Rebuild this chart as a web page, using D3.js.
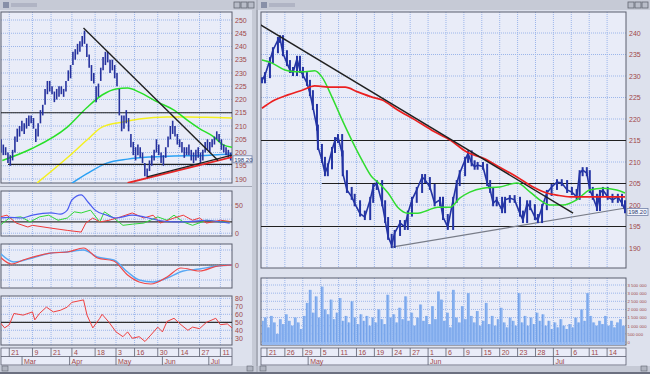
<!DOCTYPE html>
<html lang="en">
	<head>
		<meta charset="utf-8">
		<title>Charts</title>
		<script src="https://d3js.org/d3.v7.min.js"></script>
		<style>
			body { margin: 0; background: #d8dce8; }
			text { font-family: "Liberation Sans", Arial, sans-serif; font-size: 7px; }
		</style>
	</head>
	<body>
	<script>

// ---------- data ----------

// left window: daily bars (index 0..99)
var leftHigh = [205,203,202,200,199,201,206,209,210,212, 211,213,214,214,213,209,211,216,218,224,
                227,227,225,223,224,225,225,224,227,231, 233,238,239,241,242,244,246,241,237,233,
                230,225,226,232,236,238,238,235,235,233, 230,224,214,214,216,213,207,204,202,203,
                202,200,196,194,197,199,201,205,203,200, 199,202,206,210,212,210,207,205,204,202,
                202,203,201,200,201,202,200,201,204,205, 204,205,206,208,207,205,203,202,201,200];
var leftLow  = [200,199,199,196,195,197,200,204,206,208, 207,209,210,211,209,204,206,211,214,218,
                222,223,222,219,220,221,222,221,223,227, 228,233,235,237,238,240,241,236,232,227,
                226,219,221,227,231,233,234,230,231,228, 225,214,208,209,211,208,202,199,197,199,
                198,196,191,190,193,195,197,200,199,196, 195,198,202,205,207,206,203,202,200,198,
                199,199,197,196,197,198,196,197,200,201, 200,202,203,205,204,201,200,199,198,197];

var leftMaGreen  = [[1,197],[14,201.6],[29,209.6],[37.5,217],[44,221.7],[50,224],[55,224.3],[60,222.8],
                    [68,219],[75,216],[81,212],[86,209],[92,206],[96,203],[100,202]];
var leftMaYellow = [[16,188.5],[29,198],[37.5,204.7],[44,209.6],[53,211.5],[60,212.6],[72,213.4],
                    [81,213.4],[89,213.3],[100,213]];
var leftMaBlue   = [[31,188.4],[37.5,192],[46,196],[55,197.5],[65,198.3],[75,198.7],[86,198.8],[100,199.4]];

var leftLevels    = [215, 195.5];
var leftTrendDown = [[36,247],[94,197]];
var leftTrendUp   = [[63.4,190.8],[100,199]];
var leftTrendRed  = [[55,188.5],[100,198.3]];
var leftLast = "198.20";

// indicators
var adxBlue  = [[0,27],[4,28],[9,27],[14,32],[22,36],[26,34],[29,41],[31,59],[35,68],[38,55],[41,41],
                [46,32],[50,27],[57,32],[62,29],[68,23],[75,20],[83,21],[89,23],[95,20],[99,18]];
var adxGreen = [[0,14],[4,27],[9,29],[13,20],[17,29],[21,32],[25,23],[29,27],[32,38],[35,36],[39,41],
                [43,20],[45,38],[49,27],[53,14],[57,16],[62,18],[68,29],[72,23],[75,32],[79,20],
                [83,14],[89,23],[95,20],[99,20]];
var adxRed   = [[0,29],[3,32],[7,18],[12,11],[14,14],[22,9],[29,5],[35,2],[37,18],[40,27],[43,20],
                [47,23],[52,29],[57,36],[62,27],[66,32],[69,18],[75,27],[79,32],[83,23],[86,27],
                [89,18],[95,23],[99,21]];
var macdSignal = [[0,12],[6,3],[14,7],[22,12],[29,13],[36,15],[42,8],[49,5],[55,-7],[60,-15],[66,-17],
                  [72,-13],[79,-6],[86,-4],[94,-1],[100,0]];
var macdLine   = [[0,8],[5,1],[10,5],[22,12],[29,13],[36,17],[42,7],[49,4],[55,-10],[60,-17],[65,-19],
                  [72,-12],[78,-3],[86,-6],[94,-1],[100,0]];
var rsiLine = [[0,50],[2,43],[4,47],[6,61],[10,59],[14,63],[15,53],[17,61],[20,69],[23,63],[26,65],
               [29,69],[31,75],[36,78],[37.5,59],[40,43],[43,55],[44,60],[47,50],[50,38],[53,32],
               [55,38],[57,30],[60,32],[62.5,26],[65,34],[68,44],[70,38],[72,51],[75,55],[78,47],
               [81,40],[83,44],[86,42],[89,50],[93,55],[95,47],[98,48],[100,43]];

var leftDayIdx    = [4,14,22,31,41,50,58,68,77,86,95];
var leftDayLabels = ["21","9","21","4","18","3","16","30","14","27","11"];
var leftMonthIdx    = [9.5,30,50,70,90];
var leftMonthLabels = ["Mar","Apr","May","Jun","Jul"];

// right window: intraday closes, time in trading days from 21 Apr
var rightT = [-0.84,-0.34,0.5,1.0,1.84,2.18,2.68,3.35,3.85,4.36,5.03,5.53,6.03,6.7,7.2,7.7,8.38,8.54,
              9.21,9.72,10.2,10.9,11.4,11.9,12.6,12.7,13.4,14.2,14.7,15.6,16.4,17.3,17.8,18.4,19.3,
              19.8,20.3,20.9,21.4,22.3,23.1,23.6,24.3,25.1,26.0,26.5,27.3,28.1,29.0,29.5,30.3,31.2,
              31.8,32.3,33.2,33.7,34.3,34.8,35.3,36.2,36.9,37.4,37.9,38.5,39.4,39.9,40.7,41.5,42.4,
              42.9,43.6,44.1,44.9,45.4,46.1,46.9,47.7,48.6,49.4,50.3,51.1,51.9,52.4,52.9,53.6,54.1,
              54.6,55.3,55.8,56.3,57.1,57.9,58.8,59.5,60.0];
var rightClose = [229,230.2,233.7,236,238.4,238.8,235.3,233,231.4,230.7,234,231.4,230.2,228.4,226,222.8,
                  218,213.5,210.5,207.4,209,212.8,215.1,215.8,212,207.4,203.5,201.9,200.4,198,197.2,
                  201.2,204.2,205.1,200.4,196.5,192.6,190.7,193.5,195.8,194.9,198,201.2,203.5,206.5,
                  205.8,204.2,200.4,201.2,197.2,194.9,201.2,205.1,207.4,210.5,212,209.7,208.9,209.3,
                  208.9,205.1,203.5,200.4,201.2,198.8,201.2,201.6,201.2,198,196.5,200.4,199.5,197.2,
                  196.5,199.5,202.8,204.2,205.3,205.1,203.5,203,201.9,207.4,208.1,207.4,203.5,201.9,
                  199.3,202.8,203.5,201.9,201.2,201.9,200.4,198.8];

var rightMaGreen = [[-0.84,233.7],[0.84,233],[3.0,231.4],[4.7,231],[6.4,231],[8.0,231.2],[9.2,229.8],
                    [10.9,225.1],[12.6,219.8],[14.2,215.1],[15.9,210.5],[17.6,206.5],[18.6,205.3],
                    [20.3,202.8],[21.9,199.5],[23.6,198.1],[25.3,198.1],[27.0,198.8],[28.6,199.5],
                    [30.7,199.5],[32.3,201.6],[34.0,203],[36.2,203.9],[39.0,204.2],[41.9,205.1],
                    [44.1,203],[45.7,201.2],[47.4,200],[49.6,200],[51.9,201.2],[54.1,203.5],
                    [56.3,203.9],[58.6,203.5],[60.0,202.8]];
var rightMaRed = [[-0.84,222.5],[1.3,224.4],[3.5,225.6],[5.9,226.7],[8.0,227.7],[10.9,227.4],[13.1,227.4],
                  [15.2,226.3],[17.6,225.1],[19.3,224.4],[21.9,222.1],[24.8,219.8],[27.6,217.4],
                  [30.7,215.1],[33.5,212.3],[36.2,210.9],[39.0,208.8],[41.9,206.5],[44.6,204.2],
                  [46.9,202.8],[48.6,202.3],[50.8,201.9],[55.8,201.9],[60.0,201.9]];

var rightTrendDown = [[-1.1,241.9],[51.3,198.1]];
var rightTrendUp   = [[20.9,190.2],[60.1,199.3]];
var rightLast = "198.20";

// volume in thousands, two values per trading day
var volume = [1300,1500,900,1600,1200,500,1400,1100,1700,1300,1000,1500,1200,800,
              1600,2400,3200,1800,2800,1500,3400,2000,1700,2600,
              1400,1800,2700,1300,1600,1200,2500,1500,1100,1700,
              1300,1600,1000,1500,1200,2000,1400,1100,2900,1500,
              1700,1200,2100,1400,2800,1300,1800,1000,1500,2300,
              1300,1600,1100,2200,1400,3100,2600,1300,1800,900,
              3200,1500,1200,2200,1400,3000,1600,1200,1900,1000,
              1300,2400,1100,1600,1000,1400,2100,1200,900,1500,
              1300,1000,3000,1200,1600,1000,1500,1100,1800,1300,
              1700,1000,1300,800,1200,900,1400,1000,800,1100,
              900,1500,1200,2000,1300,3000,1600,1200,1000,1300,
              1100,1600,1000,1300,900,1200,1400,1000];
var volTicks = [0,500,1000,1500,2000,2500,3000,3500];
var volLabels = ["0","500 000","1 000 000","1 500 000","2 000 000","2 500 000","3 000 000","3 500 000"];

var rightDayIdx = [0,3,6,9,12,15,18,21,24,27,30,33,36,39,42,45,48,51,54,57];
var rightDayLabels = ["21","26","29","5","11","16","19","24","27","1","6","9","15","20","23","28","1","6","11","14"];
var rightMonthIdx = [6.9,27,48];
var rightMonthLabels = ["May","Jun","Jul"];

// ---------- drawing ----------

var W = 650, H = 374;
var gridCol = "#9cb6ea", labCol = "#a04848", boxCol = "#5a5e6e", plotBg = "#e9ecf8";

var svg = d3.select("body").append("svg")
	.attr("width", W).attr("height", H);

svg.append("rect").attr("width", W).attr("height", H).attr("fill", "#dde1ed");

// window chrome
function chrome(x0, x1) {
	svg.append("rect").attr("x", x0).attr("y", 0).attr("width", x1 - x0).attr("height", 10)
		.attr("fill", "#c6cad6");
	svg.append("rect").attr("x", x0 + 3).attr("y", 2).attr("width", 6).attr("height", 6)
		.attr("fill", "#8890a8");
	svg.append("rect").attr("x", x0 + 11).attr("y", 3).attr("width", 26).attr("height", 4)
		.attr("fill", "#b0b4c4");
	[22, 15, 8].forEach(function(d) {
		svg.append("rect").attr("x", x1 - d).attr("y", 2).attr("width", 6).attr("height", 6)
			.attr("fill", "#b8bcc8").attr("stroke", "#606470").attr("stroke-width", 0.8);
	});
	svg.append("rect").attr("x", x0).attr("y", 366).attr("width", x1 - x0).attr("height", 6)
		.attr("fill", "#c6cad6");
	svg.append("rect").attr("x", x0 + 2).attr("y", 366).attr("width", 6).attr("height", 5)
		.attr("fill", "#b0b4c0").attr("stroke", "#606470").attr("stroke-width", 0.6);
	svg.append("rect").attr("x", x1 - 9).attr("y", 366).attr("width", 6).attr("height", 5)
		.attr("fill", "#b0b4c0").attr("stroke", "#606470").attr("stroke-width", 0.6);
}
chrome(0, 256);
chrome(258, 650);
svg.append("rect").attr("x", 252).attr("y", 10).attr("width", 6).attr("height", 356).attr("fill", "#c6cad6");
svg.append("line").attr("x1", 257).attr("x2", 257).attr("y1", 0).attr("y2", 374).attr("stroke", "#8a8e9a");
svg.append("rect").attr("x", 0).attr("y", 372).attr("width", W).attr("height", 2).attr("fill", "#6c7080");

// a panel: background, grid, border
function panel(x0, x1, y0, y1, xs, xticks, ys, yticks) {
	svg.append("rect").attr("x", x0).attr("y", y0).attr("width", x1 - x0).attr("height", y1 - y0)
		.attr("fill", plotBg);
	var g = svg.append("g").attr("stroke", gridCol).attr("stroke-dasharray", "1,1");
	g.selectAll(".v").data(xticks).enter().append("line")
		.attr("x1", d => xs(d)).attr("x2", d => xs(d)).attr("y1", y0).attr("y2", y1);
	g.selectAll(".h").data(yticks).enter().append("line")
		.attr("x1", x0).attr("x2", x1).attr("y1", d => ys(d)).attr("y2", d => ys(d));
	svg.append("rect").attr("x", x0).attr("y", y0).attr("width", x1 - x0).attr("height", y1 - y0)
		.attr("fill", "none").attr("stroke", boxCol).attr("stroke-width", 1);
}

function yLabels(x, ys, ticks, fmt) {
	svg.append("g").selectAll("text").data(ticks).enter().append("text")
		.attr("x", x).attr("y", d => ys(d) + 2.5).attr("fill", labCol)
		.text(fmt || (d => d));
}

function clipRect(id, x0, x1, y0, y1) {
	svg.append("clipPath").attr("id", id).append("rect")
		.attr("x", x0).attr("y", y0).attr("width", x1 - x0).attr("height", y1 - y0);
	return "url(#" + id + ")";
}

function curve(g, xs, ys, data, col, w) {
	g.append("path").datum(data)
		.attr("d", d3.line().x(d => xs(d[0])).y(d => ys(d[1])).curve(d3.curveMonotoneX))
		.attr("fill", "none").attr("stroke", col).attr("stroke-width", w);
}

function straight(g, xs, ys, data, col, w) {
	g.append("path").datum(data)
		.attr("d", d3.line().x(d => xs(d[0])).y(d => ys(d[1])))
		.attr("fill", "none").attr("stroke", col).attr("stroke-width", w);
}

// last price tag, top edge at y
function lastBox(x, y, w, txt) {
	svg.append("rect").attr("x", x).attr("y", y).attr("width", w).attr("height", 7)
		.attr("fill", "#f2f4fc").attr("stroke", "#7080a8").attr("stroke-width", 0.8);
	svg.append("text").attr("x", x + 1.2).attr("y", y + 5.8).attr("fill", "#304070")
		.style("font-size", "6px").text(txt);
}

// bottom date axis
function dateAxis(x0, x1, xs, dayIdx, dayLab, monIdx, monLab) {
	svg.append("rect").attr("x", x0).attr("y", 348).attr("width", x1 - x0).attr("height", 17)
		.attr("fill", plotBg).attr("stroke", boxCol).attr("stroke-width", 0.8);
	svg.append("line").attr("x1", x0).attr("x2", x1).attr("y1", 356.5).attr("y2", 356.5)
		.attr("stroke", boxCol).attr("stroke-width", 0.8);
	var g = svg.append("g");
	g.selectAll(".dt").data(dayIdx).enter().append("line")
		.attr("x1", d => xs(d)).attr("x2", d => xs(d)).attr("y1", 348).attr("y2", 356.5)
		.attr("stroke", boxCol).attr("stroke-width", 0.8);
	g.selectAll(".dl").data(dayIdx).enter().append("text")
		.attr("x", d => xs(d) + 2).attr("y", 355).attr("fill", labCol)
		.text((d, i) => dayLab[i]);
	g.selectAll(".mt").data(monIdx).enter().append("line")
		.attr("x1", d => xs(d)).attr("x2", d => xs(d)).attr("y1", 356.5).attr("y2", 365)
		.attr("stroke", boxCol).attr("stroke-width", 0.8);
	g.selectAll(".ml").data(monIdx).enter().append("text")
		.attr("x", d => xs(d) + 2).attr("y", 363.5).attr("fill", labCol)
		.text((d, i) => monLab[i]);
}

// ===== left window =====
var lx = d3.scaleLinear().domain([0, 100]).range([0, 232]);
var ly = d3.scaleLinear().domain([190, 250]).range([179, 20]);
var priceTicks = d3.range(190, 251, 5);

panel(1, 232, 12, 183, lx, leftDayIdx, ly, priceTicks);
yLabels(235, ly, priceTicks);

var lg = svg.append("g").attr("clip-path", clipRect("cl", 1, 232, 12, 183));
curve(lg, lx, ly, leftMaYellow, "#f4f020", 1.5);
curve(lg, lx, ly, leftMaBlue, "#2aa0f4", 1.5);
curve(lg, lx, ly, leftMaGreen, "#28e028", 1.5);

lg.selectAll(".lvl").data(leftLevels).enter().append("line")
	.attr("x1", (d, i) => i == 0 ? 1 : 8).attr("x2", 232)
	.attr("y1", d => ly(d)).attr("y2", d => ly(d))
	.attr("stroke", "#202020").attr("stroke-width", 1.2);

lg.selectAll(".bar").data(leftHigh).enter().append("line")
	.attr("x1", (d, i) => lx(i) + 1).attr("x2", (d, i) => lx(i) + 1)
	.attr("y1", d => ly(d)).attr("y2", (d, i) => ly(leftLow[i]))
	.attr("stroke", "#26329e").attr("stroke-width", 1.6);

straight(lg, lx, ly, leftTrendRed, "#e82828", 1.8);
straight(lg, lx, ly, leftTrendUp, "#202020", 1.4);
straight(lg, lx, ly, leftTrendDown, "#202020", 1.4);
lastBox(233, 155.8, 19, leftLast);

svg.append("line").attr("x1", 0).attr("x2", 252).attr("y1", 186.5).attr("y2", 186.5)
	.attr("stroke", "#a4a8b6");

// panel 1: ADX
var p1 = d3.scaleLinear().domain([-5, 75]).range([236, 191]);
panel(1, 232, 191, 236, lx, leftDayIdx, p1, [0, 25, 50]);
yLabels(235, p1, [0, 50]);
var g1 = svg.append("g").attr("clip-path", clipRect("c1", 1, 232, 191, 236));
g1.append("line").attr("x1", 1).attr("x2", 232).attr("y1", p1(20)).attr("y2", p1(20))
	.attr("stroke", "#303030").attr("stroke-width", 1.2);
straight(g1, lx, p1, adxGreen, "#30d838", 1);
straight(g1, lx, p1, adxRed, "#f03a3a", 1);
curve(g1, lx, p1, adxBlue, "#4a5cf0", 1.2);

// panel 2: MACD
var p2 = d3.scaleLinear().domain([-23, 21]).range([288, 244]);
panel(1, 232, 244, 288, lx, leftDayIdx, p2, [-15, 0, 15]);
yLabels(235, p2, [0]);
var g2 = svg.append("g").attr("clip-path", clipRect("c2", 1, 232, 244, 288));
g2.append("line").attr("x1", 1).attr("x2", 232).attr("y1", p2(0)).attr("y2", p2(0))
	.attr("stroke", "#303030").attr("stroke-width", 1.2);
curve(g2, lx, p2, macdSignal, "#58a8f4", 1.4);
curve(g2, lx, p2, macdLine, "#f04848", 1.2);

// panel 3: RSI
var p3 = d3.scaleLinear().domain([21.6, 82.9]).range([345, 296]);
var rsiTicks = [30, 40, 50, 60, 70, 80];
panel(1, 232, 296, 345, lx, leftDayIdx, p3, rsiTicks);
yLabels(235, p3, rsiTicks);
var g3 = svg.append("g").attr("clip-path", clipRect("c3", 1, 232, 296, 345));
g3.append("line").attr("x1", 1).attr("x2", 232).attr("y1", p3(50)).attr("y2", p3(50))
	.attr("stroke", "#303030").attr("stroke-width", 1.2);
straight(g3, lx, p3, rsiLine, "#f04040", 1);

dateAxis(1, 232, lx, leftDayIdx, leftDayLabels, leftMonthIdx, leftMonthLabels);

// ===== right window =====
var rx = d3.scaleLinear().domain([-1, 60]).range([261, 625]);
var ry = d3.scaleLinear().domain([190, 240]).range([248, 33]);
var rTicks = d3.range(190, 241, 5);

panel(261, 626, 12, 268, rx, rightDayIdx, ry, rTicks);
yLabels(629, ry, rTicks);

var rg = svg.append("g").attr("clip-path", clipRect("cr", 261, 626, 12, 268));
rg.selectAll(".lvl").data([215, 195, 205]).enter().append("line")
	.attr("x1", (d, i) => i == 2 ? 322 : 261).attr("x2", 626)
	.attr("y1", d => ry(d)).attr("y2", d => ry(d))
	.attr("stroke", "#202020").attr("stroke-width", 1.2);
straight(rg, rx, ry, rightTrendUp, "#787c88", 1.2);

// price: a thick jagged line of bars
rg.selectAll(".bar").data(rightClose).enter().append("line")
	.attr("x1", (d, i) => rx(rightT[i])).attr("x2", (d, i) => rx(rightT[i]))
	.attr("y1", (d, i) => ry(Math.max(d, rightClose[Math.max(i - 1, 0)]) + 0.7))
	.attr("y2", (d, i) => ry(Math.min(d, rightClose[Math.max(i - 1, 0)]) - 0.7))
	.attr("stroke", "#2434a4").attr("stroke-width", 2);
rg.append("path").datum(rightClose)
	.attr("d", d3.line().x((d, i) => rx(rightT[i])).y(d => ry(d)))
	.attr("fill", "none").attr("stroke", "#2434a4").attr("stroke-width", 1.6);

curve(rg, rx, ry, rightMaGreen, "#30dc30", 1.5);
curve(rg, rx, ry, rightMaRed, "#ec2020", 1.7);
straight(rg, rx, ry, rightTrendDown, "#202020", 1.4);
lastBox(627, 208.5, 21, rightLast);

// volume panel
var vy = d3.scaleLinear().domain([0, 3500]).range([342, 285]);
panel(261, 626, 278, 345, rx, rightDayIdx, vy, volTicks);
var vg = svg.append("g").attr("clip-path", clipRect("cv", 262, 626, 278, 345));
vg.selectAll("rect").data(volume).enter().append("rect")
	.attr("x", (d, i) => rx(-1 + i * 0.5))
	.attr("width", rx(0.5) - rx(0))
	.attr("y", d => vy(d))
	.attr("height", d => vy(0) - vy(d) + 3)
	.attr("fill", "#92b8f2");
vg.selectAll(".vt").data(volume).enter().append("line")
	.attr("x1", (d, i) => rx(-1 + i * 0.5) + 1).attr("x2", (d, i) => rx(-1 + i * 0.5) + 1)
	.attr("y1", d => vy(d)).attr("y2", vy(0))
	.attr("stroke", "#6c9ce6").attr("stroke-width", 0.8);
svg.append("g")
	.selectAll("text").data(volTicks).enter().append("text")
	.attr("x", 627.5).attr("y", d => vy(d) + 1.8).attr("fill", labCol)
	.style("font-size", "4.3px")
	.text((d, i) => volLabels[i]);

dateAxis(261, 626, rx, rightDayIdx, rightDayLabels, rightMonthIdx, rightMonthLabels);

	</script>
	</body>
</html>
